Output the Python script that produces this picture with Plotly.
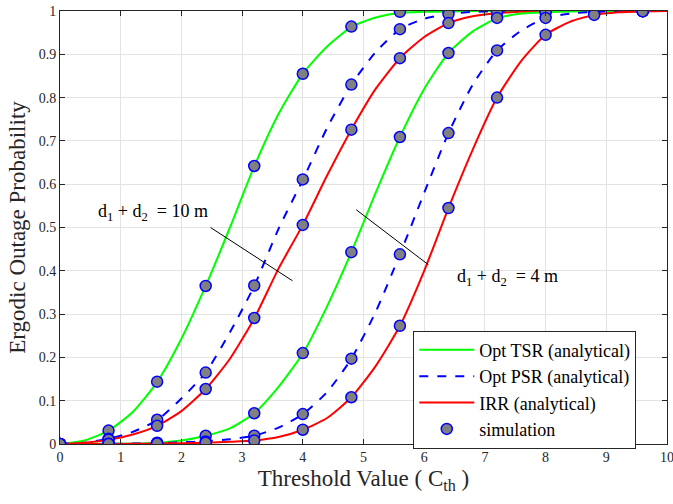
import plotly.graph_objects as go

# analytical curves, threshold grid (step 0.4)
x_an = [0.0, 0.4, 0.8, 1.2, 1.6, 2.0, 2.4, 2.8, 3.2, 3.6, 4.0, 4.4, 4.8, 5.2, 5.6,
        6.0, 6.4, 6.8, 7.2, 7.6, 8.0, 8.4, 8.8, 9.2, 9.6, 10.0]
tsr_10 = [0.0, 0.008, 0.031, 0.074, 0.143, 0.243, 0.365, 0.50, 0.641, 0.762, 0.855, 0.918, 0.963,
          0.985, 0.996, 0.998, 0.999, 1.0, 1.0, 1.0, 1.0, 1.0, 1.0, 1.0, 1.0, 1.0]
psr_10 = [0.0, 0.003, 0.012, 0.028, 0.055, 0.105, 0.165, 0.258, 0.365, 0.497, 0.61, 0.73, 0.83,
          0.905, 0.958, 0.982, 0.993, 0.998, 0.999, 1.0, 1.0, 1.0, 1.0, 1.0, 1.0, 1.0]
irr_10 = [0.0, 0.003, 0.010, 0.022, 0.042, 0.076, 0.127, 0.197, 0.290, 0.405, 0.506, 0.62, 0.726,
          0.82, 0.891, 0.94, 0.972, 0.988, 0.995, 0.998, 0.999, 1.0, 1.0, 1.0, 1.0, 1.0]
tsr_4 = [0.0, 0.0002, 0.0005, 0.001, 0.003, 0.008, 0.019, 0.036, 0.071, 0.132, 0.209, 0.318, 0.443,
         0.58, 0.709, 0.82, 0.903, 0.953, 0.983, 0.994, 0.997, 0.999, 1.0, 1.0, 1.0, 1.0]
psr_4 = [0.0, 0.0, 0.0002, 0.001, 0.002, 0.004, 0.006, 0.011, 0.019, 0.038, 0.069, 0.12, 0.197,
         0.305, 0.438, 0.58, 0.718, 0.83, 0.909, 0.955, 0.984, 0.994, 0.998, 0.999, 1.0, 1.0]
irr_4 = [0.0, 0.0, 0.0001, 0.0005, 0.001, 0.002, 0.003, 0.005, 0.008, 0.016, 0.033, 0.06, 0.108,
         0.18, 0.273, 0.40, 0.545, 0.68, 0.80, 0.885, 0.945, 0.975, 0.991, 0.997, 0.999, 1.0]

# simulation points (step 0.8)
x_sim = [0.0, 0.8, 1.6, 2.4, 3.2, 4.0, 4.8, 5.6, 6.4, 7.2, 8.0, 8.8, 9.6]
sim_tsr_10 = [0.0, 0.031, 0.144, 0.365, 0.642, 0.855, 0.964, 0.998, 1.0, 1.0, 1.0, 1.0, 1.0]
sim_psr_10 = [0.0, 0.012, 0.056, 0.165, 0.366, 0.611, 0.830, 0.958, 0.993, 0.999, 1.0, 1.0, 1.0]
sim_irr_10 = [0.0, 0.010, 0.042, 0.127, 0.291, 0.506, 0.726, 0.891, 0.972, 0.997, 0.999, 1.0, 1.0]
sim_tsr_4 = [0.0, 0.0005, 0.003, 0.019, 0.071, 0.210, 0.443, 0.709, 0.903, 0.984, 0.997, 1.0, 1.0]
sim_psr_4 = [0.0, 0.0002, 0.002, 0.006, 0.019, 0.069, 0.197, 0.438, 0.718, 0.909, 0.984, 0.998, 1.0]
sim_irr_4 = [0.0, 0.0001, 0.001, 0.003, 0.008, 0.033, 0.108, 0.273, 0.545, 0.800, 0.945, 0.991, 0.999]

legend_names = ["Opt TSR (analytical)", "Opt PSR (analytical)", "IRR (analytical)", "simulation"]
x_ticks = [0, 1, 2, 3, 4, 5, 6, 7, 8, 9, 10]
y_ticks = [0, 0.1, 0.2, 0.3, 0.4, 0.5, 0.6, 0.7, 0.8, 0.9, 1]
y_tick_text = ["0", "0.1", "0.2", "0.3", "0.4", "0.5", "0.6", "0.7", "0.8", "0.9", "1"]

SERIF = "Liberation Serif, Times New Roman, serif"
TXT = "#262626"
fig = go.Figure()

styles = [
    (tsr_10, "#00FF00", "solid", legend_names[0], True),
    (psr_10, "#0000FF", "dash", legend_names[1], True),
    (irr_10, "#FF0000", "solid", legend_names[2], True),
    (tsr_4, "#00FF00", "solid", legend_names[0], False),
    (psr_4, "#0000FF", "dash", legend_names[1], False),
    (irr_4, "#FF0000", "solid", legend_names[2], False),
]
for ys, col, dash, name, show in styles:
    fig.add_trace(go.Scatter(x=x_an, y=ys, mode="lines", name=name, showlegend=show,
                             line=dict(color=col, width=2, dash=dash, shape="spline", smoothing=0.6),
                             legendgroup=name))

sims = [sim_tsr_10, sim_psr_10, sim_irr_10, sim_tsr_4, sim_psr_4, sim_irr_4]
for i, s in enumerate(sims):
    fig.add_trace(go.Scatter(x=x_sim, y=s, mode="markers", name=legend_names[3],
                             showlegend=(i == 0), legendgroup="sim",
                             marker=dict(size=11, color="#808080",
                                         line=dict(color="#0000FF", width=1.5))))

# annotation lines and labels
fig.add_shape(type="line", x0=2.48, y0=0.50, x1=3.83, y1=0.377, xref="x", yref="y",
              line=dict(color="black", width=1))
fig.add_shape(type="line", x0=4.88, y0=0.541, x1=6.07, y1=0.414, xref="x", yref="y",
              line=dict(color="black", width=1))
fig.add_annotation(x=0.6, y=0.535, xref="x", yref="y", xanchor="left", yanchor="middle",
                   text="d<sub>1</sub> + d<sub>2</sub>  = 10 m", showarrow=False,
                   font=dict(family=SERIF, size=18, color="black"))
fig.add_annotation(x=6.5, y=0.385, xref="x", yref="y", xanchor="left", yanchor="middle",
                   text="d<sub>1</sub> + d<sub>2</sub>  = 4 m", showarrow=False,
                   font=dict(family=SERIF, size=18, color="black"))

axis_common = dict(showgrid=True, gridcolor="#E3E3E3", gridwidth=1, showline=True,
                   linecolor=TXT, linewidth=1, mirror="ticks", ticks="inside", ticklen=5,
                   tickcolor=TXT, zeroline=False, automargin=False,
                   ticklabeloverflow="allow",
                   tickfont=dict(family=SERIF, size=14, color=TXT))

fig.update_layout(
    width=673, height=504,
    margin=dict(l=60, r=6, t=11, b=60),
    paper_bgcolor="white", plot_bgcolor="white",
    font=dict(family=SERIF),
    xaxis=dict(range=[0, 10], tickvals=x_ticks,
               title=dict(text="Threshold Value ( C<sub>th</sub> )",
                          font=dict(family=SERIF, size=23, color=TXT), standoff=6),
               **axis_common),
    yaxis=dict(range=[0, 1], tickvals=y_ticks, ticktext=y_tick_text,
               title=dict(text="Ergodic Outage Probability",
                          font=dict(family=SERIF, size=23, color=TXT), standoff=6),
               **axis_common),
    legend=dict(x=0.582, y=0.262, xanchor="left", yanchor="top",
                bgcolor="white", bordercolor=TXT, borderwidth=1,
                font=dict(family=SERIF, size=18, color="black"),
                itemwidth=55, tracegroupgap=0),
    showlegend=True,
)

fig.write_html("out.html", config={"displayModeBar": False},
               post_script="document.body.style.margin='0';")
